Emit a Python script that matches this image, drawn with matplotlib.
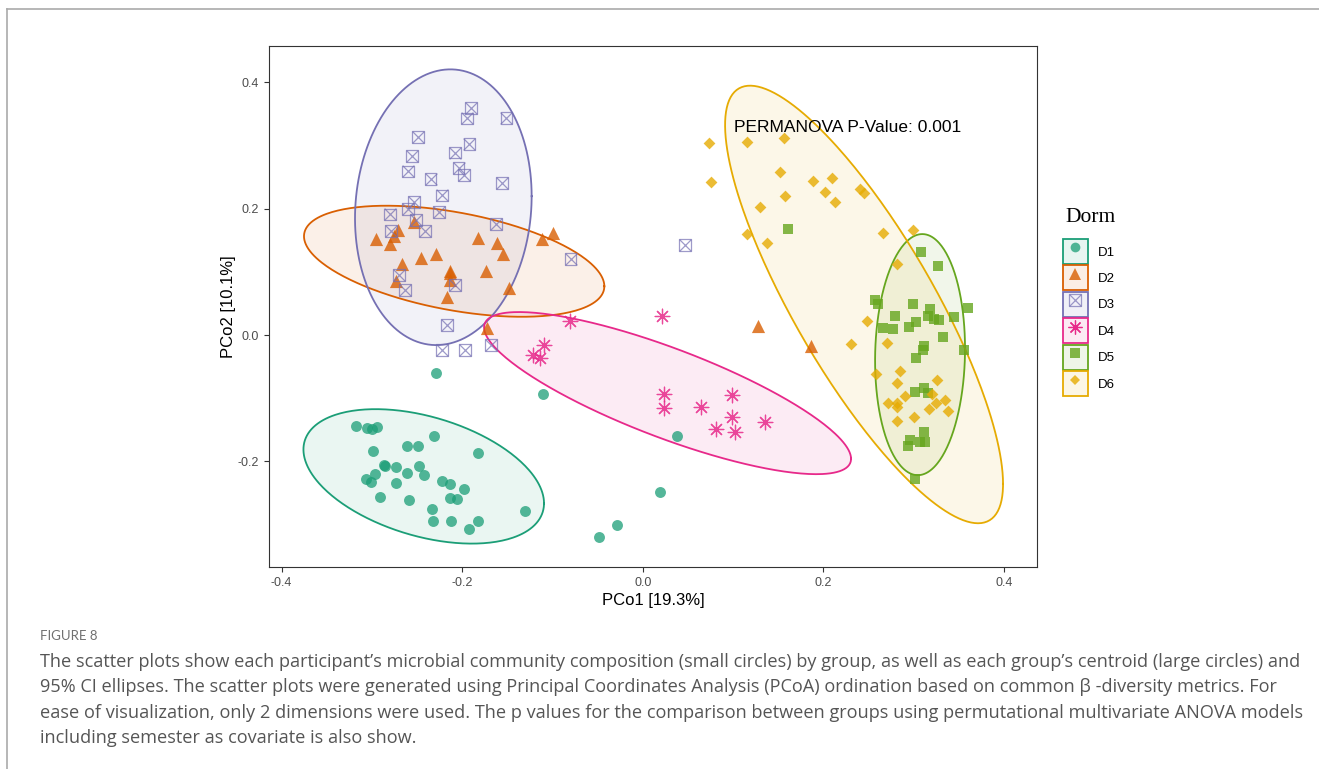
import numpy as np
import matplotlib
matplotlib.use('Agg')
import matplotlib.pyplot as plt
from matplotlib.lines import Line2D
from matplotlib.patches import Patch
from matplotlib.legend_handler import HandlerTuple
from matplotlib.colors import to_rgba

plt.rcParams['axes.unicode_minus'] = False
plt.rcParams['font.family'] = ['Liberation Sans', 'DejaVu Sans']

# ---- data ----
groups = ['D1', 'D2', 'D3', 'D4', 'D5', 'D6']
colors = ['#1B9E77', '#D95F02', '#7570B3', '#E7298A', '#66A61E', '#E6AB02']

d1_x = [-0.229, -0.110, -0.318, -0.305, -0.300, -0.294, -0.231, -0.261, -0.249, -0.299,
        -0.183, -0.287, -0.285, -0.273, -0.248, -0.261, -0.242, -0.297, -0.307, -0.301,
        -0.273, -0.222, -0.213, -0.198, -0.291, -0.259, -0.213, -0.206, -0.233, -0.130,
        -0.232, -0.212, -0.183, -0.193, 0.019, -0.029, -0.048, 0.038]
d1_y = [-0.060, -0.093, -0.144, -0.147, -0.149, -0.145, -0.160, -0.176, -0.175, -0.183,
        -0.187, -0.205, -0.207, -0.209, -0.207, -0.219, -0.221, -0.220, -0.228, -0.233,
        -0.234, -0.231, -0.236, -0.244, -0.256, -0.261, -0.258, -0.260, -0.276, -0.278,
        -0.294, -0.294, -0.295, -0.307, -0.248, -0.301, -0.319, -0.159]

d2_x = [-0.296, -0.271, -0.276, -0.280, -0.253, -0.267, -0.273, -0.246, -0.229, -0.214,
        -0.213, -0.213, -0.217, -0.183, -0.162, -0.155, -0.174, -0.148, -0.112, -0.099,
        -0.172, 0.127, 0.186]
d2_y = [0.152, 0.167, 0.157, 0.144, 0.179, 0.112, 0.086, 0.122, 0.128, 0.101,
        0.098, 0.087, 0.060, 0.153, 0.145, 0.128, 0.102, 0.074, 0.152, 0.162,
        0.012, 0.014, -0.018]

d3_x = [-0.190, -0.195, -0.151, -0.249, -0.192, -0.208, -0.256, -0.260, -0.204, -0.198,
        -0.235, -0.156, -0.222, -0.253, -0.260, -0.226, -0.280, -0.251, -0.279, -0.241,
        -0.163, -0.080, -0.270, -0.263, -0.208, -0.217, -0.222, -0.197, -0.168, 0.047]
d3_y = [0.360, 0.343, 0.344, 0.314, 0.303, 0.289, 0.284, 0.259, 0.264, 0.253,
        0.247, 0.241, 0.221, 0.211, 0.200, 0.195, 0.191, 0.182, 0.165, 0.165,
        0.176, 0.121, 0.095, 0.072, 0.079, 0.016, -0.024, -0.024, -0.016, 0.143]

d4_x = [-0.081, 0.021, -0.109, -0.122, -0.114, 0.023, 0.024, 0.064, 0.099, 0.099,
        0.135, 0.081, 0.102]
d4_y = [0.022, 0.031, -0.015, -0.032, -0.036, -0.093, -0.116, -0.113, -0.095, -0.129,
        -0.138, -0.149, -0.153]

d5_x = [0.161, 0.308, 0.327, 0.257, 0.260, 0.299, 0.279, 0.318, 0.316, 0.322,
        0.328, 0.345, 0.360, 0.266, 0.277, 0.295, 0.303, 0.332, 0.311, 0.310,
        0.356, 0.303, 0.301, 0.311, 0.316, 0.311, 0.296, 0.294, 0.307, 0.313, 0.301]
d5_y = [0.168, 0.131, 0.110, 0.055, 0.049, 0.049, 0.031, 0.041, 0.031, 0.025,
        0.024, 0.029, 0.043, 0.011, 0.010, 0.013, 0.021, -0.003, -0.017, -0.024,
        -0.024, -0.037, -0.090, -0.084, -0.092, -0.153, -0.166, -0.176, -0.169, -0.169, -0.227]

d6_x = [0.073, 0.115, 0.156, 0.075, 0.152, 0.189, 0.210, 0.202, 0.241, 0.245,
        0.157, 0.213, 0.130, 0.115, 0.138, 0.266, 0.299, 0.281, 0.248, 0.231,
        0.270, 0.258, 0.285, 0.282, 0.326, 0.290, 0.320, 0.271, 0.282, 0.282,
        0.325, 0.335, 0.317, 0.338, 0.300, 0.281]
d6_y = [0.304, 0.305, 0.312, 0.242, 0.258, 0.244, 0.248, 0.227, 0.231, 0.225,
        0.220, 0.210, 0.202, 0.160, 0.146, 0.162, 0.166, 0.112, 0.023, -0.014,
        -0.012, -0.061, -0.057, -0.076, -0.071, -0.097, -0.093, -0.107, -0.108, -0.114,
        -0.108, -0.103, -0.117, -0.120, -0.129, -0.136]

# 95% ellipses: centre, half-width, half-height, correlation
ell_cx = [-0.2426, -0.2089, -0.2209, 0.0274, 0.307, 0.245]
ell_cy = [-0.2236, 0.1169, 0.2024, -0.0918, -0.0309, 0.0485]
ell_w = [0.1332, 0.1663, 0.0978, 0.2032, 0.0498, 0.1539]
ell_h = [0.1064, 0.0879, 0.2182, 0.1283, 0.1908, 0.3463]
ell_r = [-0.40, -0.45, 0.08, -0.81, 0.05, -0.82]

xticks = [-0.4, -0.2, 0.0, 0.2, 0.4]
yticks = [-0.2, 0.0, 0.2, 0.4]

caption = [
    "The scatter plots show each participant\u2019s microbial community composition (small circles) by group, as well as each group\u2019s centroid (large circles) and",
    "95% CI ellipses. The scatter plots were generated using Principal Coordinates Analysis (PCoA) ordination based on common \u03b2 -diversity metrics. For",
    "ease of visualization, only 2 dimensions were used. The p values for the comparison between groups using permutational multivariate ANOVA models",
    "including semester as covariate is also show.",
]

# ---- figure ----
fig = plt.figure(figsize=(13.19, 7.69), dpi=100)
ax = fig.add_axes([0.2039, 0.2627, 0.5823, 0.6775])

t = np.linspace(0, 2 * np.pi, 300)
for i, c in enumerate(colors):
    ex = ell_cx[i] + ell_w[i] * np.cos(t)
    ey = ell_cy[i] + ell_h[i] * (ell_r[i] * np.cos(t) + np.sqrt(1 - ell_r[i] ** 2) * np.sin(t))
    ax.fill(ex, ey, color=c, alpha=0.09, lw=0)
    ax.plot(ex, ey, color=c, lw=1.3)

ax.scatter(d1_x, d1_y, s=62, marker='o', color=colors[0], alpha=0.75, lw=0, zorder=3)
ax.scatter(d2_x, d2_y, s=90, marker='^', color=colors[1], alpha=0.8, lw=0, zorder=3)
ax.scatter(d3_x, d3_y, s=72, marker='s', facecolor='none', edgecolor=colors[2],
           alpha=0.7, lw=0.9, zorder=3)
ax.scatter(d3_x, d3_y, s=72, marker='x', color=colors[2], alpha=0.7, lw=0.9, zorder=3)
ax.scatter(d4_x, d4_y, s=110, marker=(8, 2, 0), color=colors[3], alpha=0.85, lw=0.9, zorder=3)
ax.scatter(d5_x, d5_y, s=62, marker='s', color=colors[4], alpha=0.8, lw=0, zorder=3)
ax.scatter(d6_x, d6_y, s=36, marker='D', color=colors[5], alpha=0.8, lw=0, zorder=3)

ax.text(0.227, 0.328, 'PERMANOVA P-Value: 0.001', ha='center', va='center',
        fontsize=12.5, color='black')

ax.set_xlim(-0.414, 0.4365)
ax.set_ylim(-0.367, 0.4576)
ax.set_xticks(xticks)
ax.set_xticklabels(['%.1f' % v for v in xticks])
ax.set_yticks(yticks)
ax.set_yticklabels(['%.1f' % v for v in yticks])
ax.tick_params(labelsize=9, labelcolor='#4D4D4D', color='#333333', length=3.5, width=0.8)
for sp in ax.spines.values():
    sp.set_color('#333333')
    sp.set_linewidth(0.8)
ax.set_xlabel('PCo1 [19.3%]', fontsize=12, labelpad=3)
ax.set_ylabel('PCo2 [10.1%]', fontsize=12, labelpad=1)

# legend
handles = []
for i, c in enumerate(colors):
    box = Patch(facecolor=to_rgba(c, 0.1), edgecolor=c, linewidth=1.3)
    if i == 0:
        mk = [Line2D([], [], marker='o', ls='none', ms=7, color=c, alpha=0.75, mew=0)]
    elif i == 1:
        mk = [Line2D([], [], marker='^', ls='none', ms=9, color=c, alpha=0.8, mew=0)]
    elif i == 2:
        mk = [Line2D([], [], marker='s', ls='none', ms=8, mfc='none', mec=c, alpha=0.7, mew=0.9),
              Line2D([], [], marker='x', ls='none', ms=8, color=c, alpha=0.7, mew=0.9)]
    elif i == 3:
        mk = [Line2D([], [], marker=(8, 2, 0), ls='none', ms=10, color=c, mew=0.9)]
    elif i == 4:
        mk = [Line2D([], [], marker='s', ls='none', ms=7.5, color=c, alpha=0.8, mew=0)]
    else:
        mk = [Line2D([], [], marker='D', ls='none', ms=5.5, color=c, alpha=0.8, mew=0)]
    handles.append(tuple([box] + mk))

fig.text(1065 / 1319, 1 - 217 / 769, 'Dorm', family='Liberation Serif', fontsize=15.5,
         va='center', ha='left')
leg = fig.legend(handles, groups, loc='upper left', bbox_to_anchor=(1063 / 1319, 1 - 239 / 769),
                 frameon=False, fontsize=9.5,
                 handler_map={tuple: HandlerTuple(ndivide=1, pad=0)},
                 handlelength=1.89, handleheight=2.54, labelspacing=0.11,
                 handletextpad=0.76, borderpad=0, borderaxespad=0)

# caption
fig.text(40 / 1319, 1 - 636 / 769, 'FIGURE 8', fontsize=9.5, color='#707070',
         family=['Lato', 'DejaVu Sans'], va='center')
for k, line in enumerate(caption):
    fig.text(40 / 1319, 1 - (662 + 25.4 * k) / 769, line, fontsize=13.05, color='#555555',
             family=['Open Sans', 'DejaVu Sans'], va='center')

# outer frame (top and left rule)
fig.add_artist(Line2D([7 / 1319, 7 / 1319], [0, 1 - 9 / 769], color='#AAAAAA', lw=1.2))
fig.add_artist(Line2D([7 / 1319, 1], [1 - 9 / 769, 1 - 9 / 769], color='#AAAAAA', lw=1.2))

fig.savefig('out.png', dpi=100)
